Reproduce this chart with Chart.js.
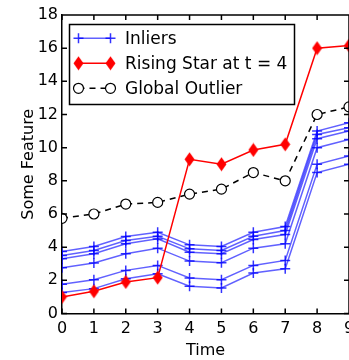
<!DOCTYPE html>
<html><head><meta charset="utf-8">
<script src="https://cdn.jsdelivr.net/npm/chart.js@4"></script>
<style>html,body{margin:0;padding:0;overflow:hidden;background:#fff;width:349px;height:360px}
#wrap{width:400px;height:360px}</style></head>
<body><div id="wrap"><canvas id="c" width="400" height="360"></canvas></div>
<script>
const times = [0, 1, 2, 3, 4, 5, 6, 7, 8, 9];
const inlierA = [3.74, 4.04, 4.64, 4.90, 4.14, 4.04, 4.90, 5.24, 11.00, 11.50];
const inlierB = [3.50, 3.80, 4.40, 4.66, 3.90, 3.80, 4.66, 5.00, 10.80, 11.20];
const inlierC = [3.30, 3.60, 4.20, 4.50, 3.70, 3.60, 4.46, 4.76, 10.54, 11.00];
const inlierD = [2.76, 3.04, 3.60, 3.94, 3.16, 3.06, 3.94, 4.20, 10.00, 10.50];
const inlierE = [1.76, 2.04, 2.60, 2.90, 2.14, 2.04, 2.90, 3.20, 9.00, 9.50];
const inlierF = [1.26, 1.50, 2.10, 2.40, 1.64, 1.54, 2.44, 2.70, 8.50, 9.00];
const risingStar = [1.00, 1.34, 1.90, 2.16, 9.30, 9.00, 9.86, 10.20, 16.00, 16.16];
const globalOutlier = [5.74, 6.00, 6.60, 6.70, 7.20, 7.50, 8.50, 8.00, 12.00, 12.46];
const xTicks = [0, 1, 2, 3, 4, 5, 6, 7, 8, 9];
const yTicks = [0, 2, 4, 6, 8, 10, 12, 14, 16, 18];
const legendLabels = ['Inliers', 'Rising Star at t = 4', 'Global Outlier'];

const FONT = "'DejaVu Sans', sans-serif";
const BLUE = 'rgba(0,0,255,0.62)';

function diamondCanvas() {
  const c = document.createElement('canvas');
  c.width = 11; c.height = 15;
  const g = c.getContext('2d');
  g.fillStyle = 'red';
  g.beginPath();
  g.moveTo(5.5, 0.5); g.lineTo(10.5, 7.5); g.lineTo(5.5, 14.5); g.lineTo(0.5, 7.5);
  g.closePath(); g.fill();
  return c;
}
const diamond = diamondCanvas();

function pts(arr) { return times.map((t, i) => ({x: t, y: arr[i]})); }

const inlierSets = [inlierA, inlierB, inlierC, inlierD, inlierE, inlierF].map((arr, i) => ({
  label: i === 0 ? legendLabels[0] : '',
  data: pts(arr),
  borderColor: BLUE, borderWidth: 1.5, backgroundColor: BLUE,
  pointStyle: 'cross', pointRadius: 5, pointBorderWidth: 1.5, pointBorderColor: 'rgba(0,0,255,0.8)',
  order: 3, tension: 0
}));

const datasets = inlierSets.concat([
  {label: legendLabels[1], data: pts(risingStar), borderColor: 'red', borderWidth: 1.5,
   pointStyle: diamond, pointRadius: 6, order: 2, tension: 0},
  {label: legendLabels[2], data: pts(globalOutlier), borderColor: 'black', borderWidth: 1.5,
   borderDash: [6, 5], pointStyle: 'circle', pointRadius: 5, pointBackgroundColor: 'white',
   pointBorderColor: 'black', pointBorderWidth: 1.2, order: 1, tension: 0}
]);

const frame = {
  id: 'frame',
  afterDraw(chart) {
    const ctx = chart.ctx, a = chart.chartArea;
    const xs = chart.scales.x, ys = chart.scales.y;
    ctx.save();
    ctx.strokeStyle = 'black'; ctx.lineWidth = 1.5;
    ctx.beginPath();
    ctx.moveTo(a.left, a.top); ctx.lineTo(a.right, a.top);
    ctx.moveTo(a.right, a.top); ctx.lineTo(a.right, a.bottom);
    const L = 5;
    xTicks.forEach(v => {
      const px = xs.getPixelForValue(v);
      ctx.moveTo(px, a.bottom); ctx.lineTo(px, a.bottom - L);
      ctx.moveTo(px, a.top); ctx.lineTo(px, a.top + L);
    });
    yTicks.forEach(v => {
      const py = ys.getPixelForValue(v);
      ctx.moveTo(a.left, py); ctx.lineTo(a.left + L, py);
      ctx.moveTo(a.right, py); ctx.lineTo(a.right - L, py);
    });
    ctx.stroke();

    // legend
    const bx = a.left + 7.5, by = a.top + 9.5, bw = 225, bh = 80;
    ctx.fillStyle = 'white';
    ctx.fillRect(bx, by, bw, bh);
    ctx.lineWidth = 1.5; ctx.strokeStyle = 'black';
    ctx.strokeRect(bx, by, bw, bh);
    const x1 = a.left + 16.5, x2 = a.left + 48.5, tx = a.left + 63;
    const rows = [a.top + 23.3, a.top + 48.3, a.top + 73.3];
    // inliers
    ctx.strokeStyle = BLUE; ctx.lineWidth = 1.5;
    ctx.beginPath(); ctx.moveTo(x1, rows[0]); ctx.lineTo(x2, rows[0]); ctx.stroke();
    ctx.strokeStyle = 'rgba(0,0,255,0.8)';
    [x1, x2].forEach(x => {
      ctx.beginPath();
      ctx.moveTo(x - 5, rows[0]); ctx.lineTo(x + 5, rows[0]);
      ctx.moveTo(x, rows[0] - 5); ctx.lineTo(x, rows[0] + 5);
      ctx.stroke();
    });
    // rising star
    ctx.strokeStyle = 'red';
    ctx.beginPath(); ctx.moveTo(x1, rows[1]); ctx.lineTo(x2, rows[1]); ctx.stroke();
    [x1, x2].forEach(x => ctx.drawImage(diamond, x - 5.5, rows[1] - 7.5));
    // global outlier
    ctx.strokeStyle = 'black'; ctx.setLineDash([6, 5]);
    ctx.beginPath(); ctx.moveTo(x1, rows[2]); ctx.lineTo(x2, rows[2]); ctx.stroke();
    ctx.setLineDash([]); ctx.lineWidth = 1.2;
    [x1, x2].forEach(x => {
      ctx.beginPath(); ctx.arc(x, rows[2], 5, 0, Math.PI * 2);
      ctx.fillStyle = 'white'; ctx.fill(); ctx.stroke();
    });
    ctx.fillStyle = 'black';
    ctx.font = '17px ' + FONT;
    ctx.textBaseline = 'middle'; ctx.textAlign = 'left';
    legendLabels.forEach((t, i) => ctx.fillText(t, tx, rows[i] + 1));
    ctx.restore();
  }
};

new Chart(document.getElementById('c'), {
  type: 'line',
  data: {datasets},
  plugins: [frame],
  options: {
    responsive: false, animation: false, devicePixelRatio: 1,
    layout: {padding: {left: 19, top: 15, right: 51, bottom: 0}},
    plugins: {legend: {display: false}, tooltip: {enabled: false}},
    scales: {
      x: {
        type: 'linear', min: 0, max: 9,
        afterBuildTicks: s => { s.ticks = xTicks.map(v => ({value: v})); },
        afterFit: s => { s.height = 46.5; },
        grid: {display: false, drawTicks: false},
        border: {display: true, color: 'black', width: 1.5},
        ticks: {font: {family: FONT, size: 16}, color: 'black', padding: 6, maxRotation: 0, autoSkip: false},
        title: {display: true, text: 'Time', font: {family: FONT, size: 16}, color: 'black', padding: 0}
      },
      y: {
        type: 'linear', min: 0, max: 18,
        afterBuildTicks: s => { s.ticks = yTicks.map(v => ({value: v})); },
        afterFit: s => { s.width = 43; },
        grid: {display: false, drawTicks: false},
        border: {display: true, color: 'black', width: 1.5},
        ticks: {font: {family: FONT, size: 16}, color: 'black', padding: 4, autoSkip: false},
        title: {display: true, text: 'Some Feature', font: {family: FONT, size: 16}, color: 'black', padding: 0}
      }
    }
  }
});
</script></body></html>
